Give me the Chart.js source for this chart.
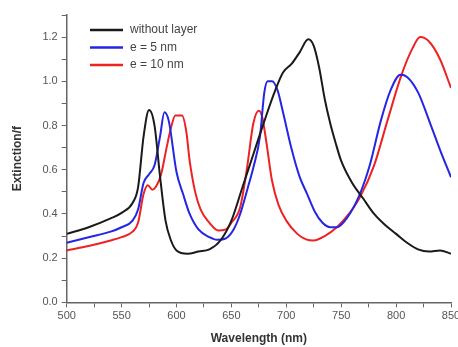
<!DOCTYPE html>
<html>
<head>
<meta charset="utf-8">
<script src="https://cdn.jsdelivr.net/npm/chart.js@4.4.0/dist/chart.umd.min.js"></script>
<style>
  html, body { margin: 0; padding: 0; background: #fff; overflow: hidden; }
  #wrap { width: 468px; height: 347px; }
</style>
</head>
<body>
<div id="wrap"><canvas id="chart" width="468" height="347"></canvas></div>
<script>
// wavelengths (nm) and extinction values
const wlBare = [500,520,540,550,560,565,570,575,580,585,590,595,600,610,620,630,640,650,660,670,680,690,697,705,712,720,725,730,735,740,745,750,760,770,780,790,800,810,820,830,840,850];
const extBare = [0.31,0.34,0.38,0.405,0.45,0.52,0.75,0.87,0.80,0.57,0.37,0.28,0.235,0.22,0.23,0.24,0.28,0.37,0.52,0.67,0.82,0.96,1.04,1.08,1.13,1.19,1.16,1.06,0.92,0.81,0.72,0.64,0.54,0.47,0.40,0.35,0.31,0.27,0.24,0.23,0.235,0.22];

const wl5 = [500,520,540,550,560,565,570,575,580,585,589,593,600,606,612,620,630,637,645,652,658,665,670,676,680,683,687,692,697,705,712,719,726,733,740,746,755,767,776,786,795,804,810,820,831,840,850];
const ext5 = [0.27,0.295,0.32,0.34,0.37,0.42,0.54,0.58,0.62,0.75,0.86,0.82,0.59,0.49,0.40,0.33,0.295,0.283,0.29,0.33,0.40,0.52,0.61,0.75,0.95,1.0,1.0,0.96,0.86,0.69,0.57,0.49,0.41,0.36,0.34,0.34,0.38,0.49,0.62,0.82,0.96,1.03,1.02,0.95,0.81,0.69,0.566];

const wl10 = [500,520,540,550,560,565,570,574,578,582,586,591,595,599,605,609,612,617,622,630,638,645,650,658,664,670,675,678,682,687,693,700,710,718,725,735,746,757,767,780,792,805,815,822,830,840,850];
const ext10 = [0.235,0.255,0.28,0.295,0.32,0.36,0.49,0.53,0.51,0.53,0.58,0.70,0.79,0.845,0.845,0.77,0.64,0.50,0.42,0.36,0.325,0.33,0.36,0.43,0.60,0.81,0.867,0.84,0.72,0.55,0.44,0.37,0.31,0.285,0.28,0.30,0.34,0.40,0.475,0.62,0.82,1.03,1.15,1.2,1.18,1.1,0.97];

const seriesNames = ["without layer", "e = 5 nm", "e = 10 nm"];
const seriesColors = ["#1a1a1a", "#2525e6", "#ee2222"];

const xTicks = [500, 550, 600, 650, 700, 750, 800, 850];
const yTicks = [0.0, 0.2, 0.4, 0.6, 0.8, 1.0, 1.2];

function pts(xs, ys) {
  return xs.map((x, i) => ({ x: x, y: ys[i] }));
}

// legend drawn inside the plot, top-left
const innerLegend = {
  id: "innerLegend",
  afterDraw(chart) {
    const ctx = chart.ctx;
    ctx.save();
    ctx.font = "12px 'Liberation Sans', Arial, sans-serif";
    ctx.textBaseline = "middle";
    chart.data.datasets.forEach((ds, i) => {
      const y = 30 + i * 17.5;
      ctx.strokeStyle = ds.borderColor;
      ctx.lineWidth = 2.5;
      ctx.beginPath();
      ctx.moveTo(90, y);
      ctx.lineTo(123, y);
      ctx.stroke();
      ctx.fillStyle = "#444";
      ctx.fillText(ds.label, 130, y);
    });
    ctx.restore();
  }
};

const tickFont = { family: "'Liberation Sans', Arial, sans-serif", size: 11 };
const titleFont = { family: "'Liberation Sans', Arial, sans-serif", size: 12, weight: "bold" };

new Chart(document.getElementById("chart").getContext("2d"), {
  type: "line",
  data: {
    datasets: [
      { label: seriesNames[0], data: pts(wlBare, extBare), borderColor: seriesColors[0] },
      { label: seriesNames[1], data: pts(wl5, ext5), borderColor: seriesColors[1] },
      { label: seriesNames[2], data: pts(wl10, ext10), borderColor: seriesColors[2] },
    ].map(d => Object.assign(d, {
      borderWidth: 2,
      pointRadius: 0,
      fill: false,
      cubicInterpolationMode: "monotone",
    })),
  },
  options: {
    responsive: false,
    animation: false,
    layout: { padding: { top: 15, right: 17, left: 10, bottom: 1 } },
    plugins: {
      legend: { display: false },
      tooltip: { enabled: false },
    },
    scales: {
      x: {
        type: "linear",
        min: 500,
        max: 850,
        ticks: {
          stepSize: 25,
          color: "#555",
          font: tickFont,
          maxRotation: 0,
          autoSkip: false,
          padding: 2,
          callback: (v) => (xTicks.includes(v) ? String(v) : ""),
        },
        grid: {
          drawOnChartArea: false,
          drawTicks: true,
          tickLength: 5,
          tickColor: "#666",
        },
        border: { color: "#666", width: 1.5 },
        title: { display: true, text: "Wavelength (nm)", color: "#333", font: titleFont, padding: { top: 7, bottom: 0 } },
      },
      y: {
        min: 0,
        max: 1.3,
        ticks: {
          stepSize: 0.1,
          color: "#555",
          font: tickFont,
          padding: 4,
          callback: (v) => {
            const r = Math.round(v * 10) / 10;
            return yTicks.some(t => Math.abs(t - r) < 1e-6) ? r.toFixed(1) : "";
          },
        },
        grid: {
          drawOnChartArea: false,
          drawTicks: true,
          tickLength: 5,
          tickColor: "#666",
        },
        border: { color: "#666", width: 1.5 },
        title: { display: true, text: "Extinction/f", color: "#333", font: titleFont, padding: { top: 0, bottom: 14 } },
      },
    },
  },
  plugins: [innerLegend],
});
</script>
</body>
</html>
